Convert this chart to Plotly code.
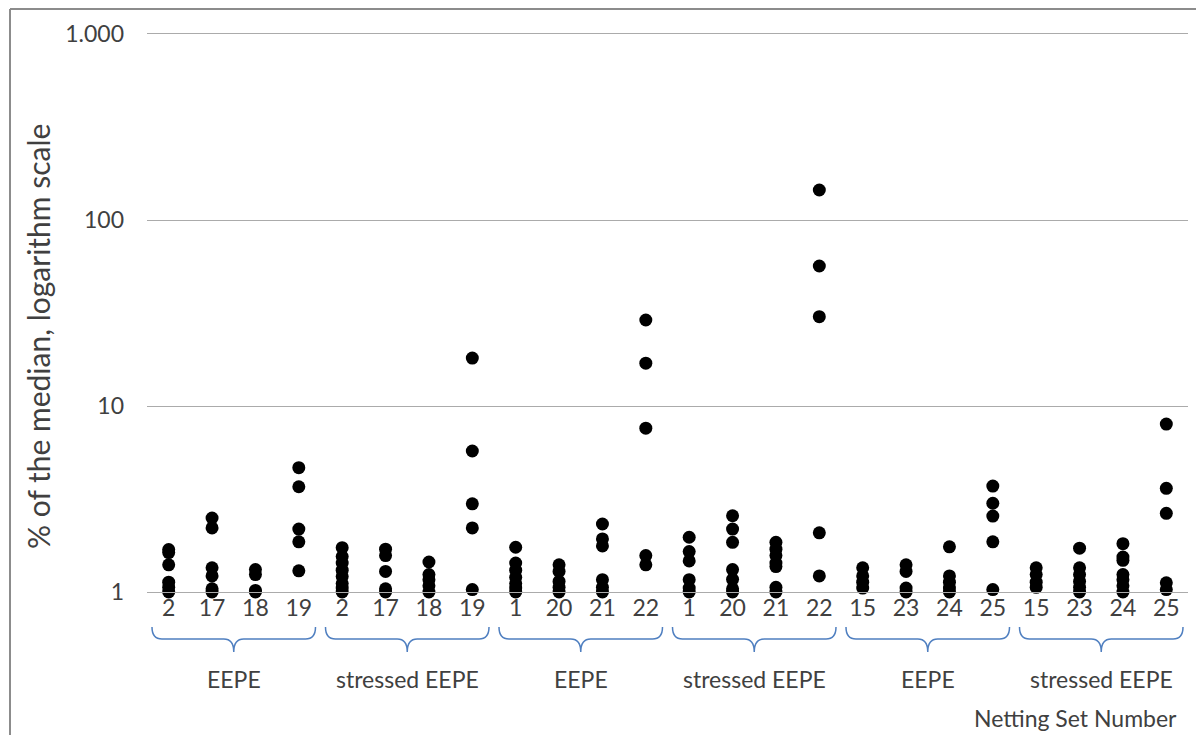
import plotly.graph_objects as go

# Netting set numbers along the category axis (two blocks per portfolio)
set_labels = ["2", "17", "18", "19", "2", "17", "18", "19",
              "1", "20", "21", "22", "1", "20", "21", "22",
              "15", "23", "24", "25", "15", "23", "24", "25"]
group_labels = ["EEPE", "stressed EEPE", "EEPE", "stressed EEPE", "EEPE", "stressed EEPE"]

# Results in % of the median, one list per netting set
eepe_2 = [1.69, 1.63, 1.40, 1.13, 1.06, 1.00]
eepe_17 = [2.50, 2.21, 1.35, 1.22, 1.04, 1.00]
eepe_18 = [1.32, 1.24, 1.02, 1.00]
eepe_19 = [4.66, 3.68, 2.18, 1.86, 1.30]
seepe_2 = [1.73, 1.55, 1.43, 1.31, 1.21, 1.11, 1.05, 1.00]
seepe_17 = [1.70, 1.57, 1.29, 1.04, 1.00]
seepe_18 = [1.45, 1.24, 1.165, 1.08, 1.00]
seepe_19 = [18.1, 5.73, 2.98, 2.21, 1.03]

eepe_1 = [1.74, 1.43, 1.31, 1.20, 1.11, 1.05, 1.00]
eepe_20 = [1.40, 1.29, 1.14, 1.06, 1.00]
eepe_21 = [2.32, 1.93, 1.77, 1.165, 1.06, 1.00]
eepe_22 = [29.0, 17.0, 7.6, 1.57, 1.40]
seepe_1 = [1.97, 1.65, 1.47, 1.165, 1.05, 1.00]
seepe_20 = [2.57, 2.18, 1.85, 1.32, 1.17, 1.04, 1.00]
seepe_21 = [1.85, 1.70, 1.57, 1.43, 1.37, 1.06, 1.00]
seepe_22 = [145.0, 56.6, 30.2, 2.08, 1.22]

eepe_15 = [1.35, 1.22, 1.13, 1.05]
eepe_23 = [1.40, 1.29, 1.05, 1.00]
eepe_24 = [1.75, 1.22, 1.13, 1.05, 1.00]
eepe_25 = [3.71, 3.00, 2.56, 1.86, 1.03]
seepe_15 = [1.35, 1.24, 1.13, 1.06]
seepe_23 = [1.72, 1.35, 1.24, 1.14, 1.06, 1.00]
seepe_24 = [1.82, 1.54, 1.48, 1.24, 1.165, 1.08, 1.00]
seepe_25 = [8.0, 3.61, 2.65, 1.12, 1.03]

y_tickvals = [1, 10, 100, 1000]
y_ticktext = ["1", "10", "100", "1.000"]

series = [eepe_2, eepe_17, eepe_18, eepe_19, seepe_2, seepe_17, seepe_18, seepe_19,
          eepe_1, eepe_20, eepe_21, eepe_22, seepe_1, seepe_20, seepe_21, seepe_22,
          eepe_15, eepe_23, eepe_24, eepe_25, seepe_15, seepe_23, seepe_24, seepe_25]

xs, ys = [], []
for i, vals in enumerate(series):
    xs.extend([i] * len(vals))
    ys.extend(vals)

FONT = "Lato, Carlito, 'Liberation Sans', sans-serif"
TXT = "#404040"
GRID = "#ababab"
BRACE = "#4f7fc0"

fig = go.Figure(go.Scatter(
    x=xs, y=ys, mode="markers",
    marker=dict(color="black", size=13, line=dict(width=0)),
    cliponaxis=False, showlegend=False, hoverinfo="y",
))

n_cat = len(set_labels)

def cat_to_paper(pos):
    return (pos + 0.5) / n_cat

shapes = []
# outer chart frame (left and top edges)
shapes.append(dict(type="line", xref="paper", yref="paper", x0=-0.1316, x1=-0.1316,
                   y0=1.045, y1=-0.3, line=dict(color="#8c8c8c", width=2)))
shapes.append(dict(type="line", xref="paper", yref="paper", x0=-0.1316, x1=1.05,
                   y0=1.045, y1=1.045, line=dict(color="#8c8c8c", width=2)))

# curly braces under each block of four netting sets
inset = 0.0048
r = 0.0096
y_top, y_mid, y_tip = -0.0627, -0.0842, -0.1075
annotations = []
for g, name in enumerate(group_labels):
    xl = cat_to_paper(4 * g - 0.5) + inset
    xr = cat_to_paper(4 * g + 3.5) - inset
    xc = (xl + xr) / 2
    path = (f"M {xl},{y_top} Q {xl},{y_mid} {xl + r},{y_mid} L {xc - r},{y_mid} "
            f"Q {xc},{y_mid} {xc},{y_tip} Q {xc},{y_mid} {xc + r},{y_mid} "
            f"L {xr - r},{y_mid} Q {xr},{y_mid} {xr},{y_top}")
    shapes.append(dict(type="path", xref="paper", yref="paper", path=path,
                       line=dict(color=BRACE, width=1.5)))
    annotations.append(dict(xref="paper", yref="paper", x=xc, y=-0.156, text=name,
                            showarrow=False, xanchor="center", yanchor="middle",
                            font=dict(family=FONT, size=23, color=TXT)))

annotations.append(dict(xref="paper", yref="paper", x=0.7935, y=-0.2265,
                        text="Netting Set Number", showarrow=False,
                        xanchor="left", yanchor="middle", borderpad=0,
                        font=dict(family=FONT, size=23, color=TXT)))
annotations.append(dict(xref="paper", yref="paper", x=-0.1047, y=0.457,
                        text="% of the median, logarithm scale", showarrow=False,
                        textangle=-90, xanchor="center", yanchor="middle",
                        font=dict(family=FONT, size=30, color=TXT)))

fig.update_layout(
    width=1196, height=735, autosize=False,
    margin=dict(l=147, r=8, t=34, b=143, pad=0),
    paper_bgcolor="white", plot_bgcolor="white",
    shapes=shapes, annotations=annotations,
    xaxis=dict(range=[-0.5, n_cat - 0.5], tickmode="array",
               tickvals=list(range(n_cat)), ticktext=set_labels,
               showgrid=False, zeroline=False,
               showline=True, mirror=True, linecolor=GRID, linewidth=1,
               ticks="", ticklabelstandoff=-5,
               tickfont=dict(family=FONT, size=23, color=TXT)),
    yaxis=dict(type="log", range=[0, 3], tickmode="array",
               tickvals=y_tickvals, ticktext=y_ticktext,
               showgrid=True, gridcolor=GRID, gridwidth=1,
               zeroline=False, showline=False, ticks="",
               ticklabelstandoff=22,
               tickfont=dict(family=FONT, size=23, color=TXT)),
)

fig.write_html("out.html")
